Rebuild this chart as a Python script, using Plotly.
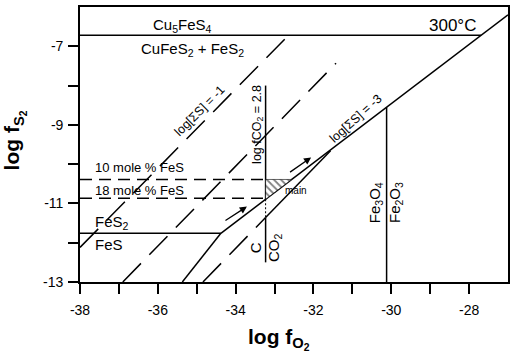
import numpy as np
import plotly.graph_objects as go

# Axis ranges and ticks (log fO2 on x, log fS2 on y)
x_range = [-38.0, -27.0]
y_range = [-13.0, -6.0]
x_ticks = list(range(-38, -27))
x_ticklabels = [str(v) if v % 2 == 0 else "" for v in x_ticks]
y_ticks = list(range(-13, -6))
y_ticklabels = [str(v) if v % 2 != 0 else "" for v in y_ticks]

# Mineral stability boundaries at 300 °C
bn_cp_x = [-38.0, -27.69]          # Cu5FeS4 / CuFeS2 + FeS2
bn_cp_y = [-6.72, -6.72]
py_po_x = [-38.0, -34.38]          # FeS2 / FeS
py_po_y = [-11.76, -11.76]
po_mt_x = [-35.37, -34.38]         # FeS / Fe3O4
po_mt_y = [-13.0, -11.76]
py_mt_x = [-34.38, -27.0]          # FeS2 / Fe3O4
py_mt_y = [-11.76, -6.20]
mt_hm_x0 = -30.12                  # Fe3O4 / Fe2O3

# Total dissolved sulfur isopleths
sum_s1_x = [-38.0, -32.64]         # log[ΣS] = -1
sum_s1_y = [-12.12, -6.72]
sum_s2_x = [-36.90, -31.42]
sum_s2_y = [-13.0, -7.43]
sum_s3_dash_x = [-34.84, -33.23]   # log[ΣS] = -3
sum_s3_dash_y = [-13.0, -11.36]
sum_s3_solid_x = [-33.23, -31.56]
sum_s3_solid_y = [-11.36, -9.66]

# Graphite / CO2 boundary at log fCO2 = 2.8
co2_x0 = -33.23
co2_y_top = -8.0
co2_y_bottom = -12.5

# Pyrrhotite composition isopleths
fes10_y = -10.39
fes18_y = -10.87

# Ore-stage arrows (tail -> head)
arrow_tail_x = [-34.30, -32.64]
arrow_tail_y = [-11.46, -10.23]
arrow_head_x = [-33.71, -32.06]
arrow_head_y = [-11.08, -9.83]

LINE = dict(color="black", width=1.5)
DASH_LONG = dict(color="black", width=1.5, dash="26px,12px")
DASH_SHORT = dict(color="black", width=1.4, dash="12px,7px")

fig = go.Figure()


def add_line(xs, ys, style):
    fig.add_trace(go.Scatter(x=xs, y=ys, mode="lines", line=style,
                             hoverinfo="skip", showlegend=False))


add_line(bn_cp_x, bn_cp_y, LINE)
add_line(py_po_x, py_po_y, LINE)
add_line(po_mt_x, po_mt_y, LINE)
add_line(py_mt_x, py_mt_y, LINE)

mt_hm_top = float(np.interp(mt_hm_x0, py_mt_x, py_mt_y))
add_line([mt_hm_x0, mt_hm_x0], [y_range[0], mt_hm_top], LINE)

add_line(sum_s1_x, sum_s1_y, DASH_LONG)
add_line(sum_s2_x, sum_s2_y, DASH_LONG)
add_line(sum_s3_dash_x, sum_s3_dash_y, DASH_LONG)
add_line(sum_s3_solid_x, sum_s3_solid_y, LINE)

# CO2 line: solid above the FeS2/Fe3O4 boundary, dotted in the wedge, solid below
co2_cross = float(np.interp(co2_x0, py_mt_x, py_mt_y))
add_line([co2_x0, co2_x0], [co2_y_top, co2_cross], LINE)
add_line([co2_x0, co2_x0], [co2_cross, sum_s3_solid_y[0]],
         dict(color="black", width=1.0, dash="2px,2px"))
add_line([co2_x0, co2_x0], [sum_s3_solid_y[0], co2_y_bottom], LINE)

add_line([x_range[0], co2_x0], [fes10_y, fes10_y], DASH_SHORT)
add_line([x_range[0], co2_x0], [fes18_y, fes18_y], DASH_SHORT)

# Hatched main-stage field
x_hatch_end = float(np.interp(fes10_y, py_mt_y, py_mt_x))
fig.add_trace(go.Scatter(
    x=[co2_x0, co2_x0, x_hatch_end, co2_x0],
    y=[fes10_y, co2_cross, fes10_y, fes10_y],
    mode="lines", line=dict(color="black", width=0.6),
    fill="toself", fillcolor="rgba(0,0,0,0)",
    fillpattern=dict(shape="\\", size=5, solidity=0.35,
                     fgcolor="black", bgcolor="white"),
    hoverinfo="skip", showlegend=False))

annotations = []
for tx, ty, hx, hy in zip(arrow_tail_x, arrow_tail_y, arrow_head_x, arrow_head_y):
    annotations.append(dict(
        x=hx, y=hy, ax=tx, ay=ty, xref="x", yref="y", axref="x", ayref="y",
        text="", showarrow=True, arrowhead=2, arrowsize=1.1,
        arrowwidth=1.3, arrowcolor="black"))

FONT = "Liberation Sans, Arial, sans-serif"
labels = [
    ("Cu<sub>5</sub>FeS<sub>4</sub>", -35.37, -6.48, 15, 0, "center"),
    ("CuFeS<sub>2</sub> + FeS<sub>2</sub>", -35.12, -7.07, 15, 0, "center"),
    ("300°C", -28.43, -6.48, 17, 0, "center"),
    ("10 mole % FeS", -37.67, -10.08, 13, 0, "left"),
    ("18 mole % FeS", -37.67, -10.67, 13, 0, "left"),
    ("FeS<sub>2</sub>", -37.67, -11.48, 15, 0, "left"),
    ("FeS", -37.67, -12.05, 15, 0, "left"),
    ("log[ΣS] = -1", -34.93, -8.64, 12.5, -45, "center"),
    ("log[ΣS] = -3", -30.93, -8.84, 12.5, -42, "center"),
    ("log fCO<sub>2</sub> = 2.8", -33.43, -8.98, 12.5, -90, "center"),
    ("main", -32.46, -10.67, 10, 0, "center"),
    ("C", -33.48, -12.12, 15, -90, "center"),
    ("CO<sub>2</sub>", -33.0, -12.12, 15, -90, "center"),
    ("Fe<sub>3</sub>O<sub>4</sub>", -30.42, -10.97, 15, -90, "center"),
    ("Fe<sub>2</sub>O<sub>3</sub>", -29.91, -10.97, 15, -90, "center"),
]
for text, x, y, size, angle, anchor in labels:
    annotations.append(dict(
        x=x, y=y, xref="x", yref="y", text=text, showarrow=False,
        textangle=angle, xanchor=anchor, yanchor="middle",
        font=dict(family=FONT, size=size, color="black")))

# Axis titles
annotations.append(dict(
    x=-0.1535, y=0.516, xref="paper", yref="paper",
    text="<b>log f<sub>S<sub>2</sub></sub></b>",
    showarrow=False, textangle=-90, xanchor="center", yanchor="middle",
    font=dict(family=FONT, size=21, color="black")))
annotations.append(dict(
    x=0.465, y=-0.207, xref="paper", yref="paper",
    text="<b>log f<sub>O<sub>2</sub></sub></b>",
    showarrow=False, xanchor="center", yanchor="middle",
    font=dict(family=FONT, size=21, color="black")))

axis_common = dict(
    showgrid=False, zeroline=False, showline=True, linecolor="black",
    linewidth=1.7, mirror=True, ticks="outside", ticklen=10, tickwidth=1.5,
    tickcolor="black", tickfont=dict(family=FONT, size=14, color="black"))

fig.update_layout(
    width=511, height=354,
    margin=dict(l=80, r=1, t=7, b=72),
    plot_bgcolor="white", paper_bgcolor="white",
    showlegend=False,
    annotations=annotations,
    xaxis=dict(range=x_range, tickvals=x_ticks, ticktext=x_ticklabels,
               ticklabelstandoff=4, **axis_common),
    yaxis=dict(range=y_range, tickvals=y_ticks, ticktext=y_ticklabels,
               ticklabelstandoff=2, **axis_common),
)

fig.write_html("out.html")
